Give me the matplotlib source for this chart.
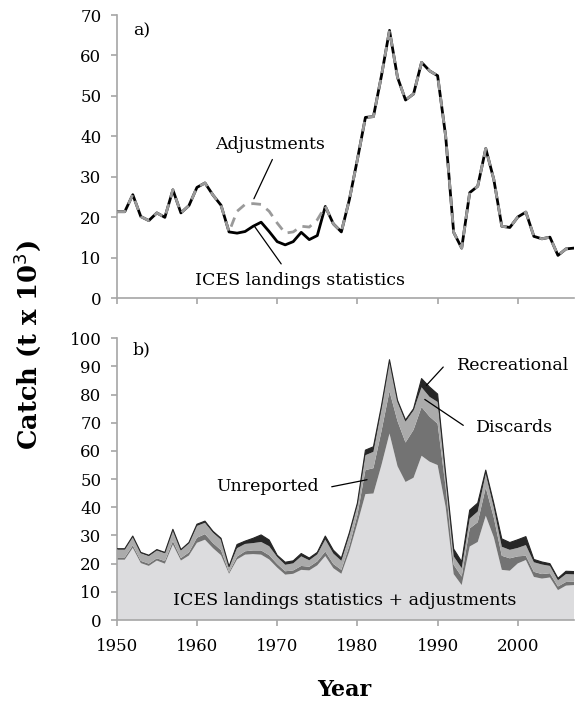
import matplotlib
matplotlib.use("Agg")
import matplotlib.pyplot as plt
import numpy as np

years = np.arange(1950, 2008)

# panel a: ICES landings statistics and landings incl. adjustments (t x 10^3)
ices = [21.4, 21.4, 25.6, 20.2, 19.2, 21.1, 20.0, 26.8, 21.1, 22.9,
        27.4, 28.5, 25.5, 23.0, 16.4, 16.1, 16.5, 17.8, 18.8, 16.5,
        14.0, 13.2, 14.0, 16.3, 14.5, 15.5, 22.7, 18.4, 16.4, 24.4,
        34.3, 44.7, 44.9, 55.0, 66.2, 54.6, 49.0, 50.5, 58.3, 56.2,
        55.0, 40.1, 16.3, 12.4, 26.1, 27.7, 37.0, 29.4, 17.8, 17.5,
        20.1, 21.3, 15.3, 14.7, 15.1, 10.6, 12.2, 12.4]
adjusted = [21.4, 21.4, 25.6, 20.2, 19.2, 21.1, 20.0, 26.8, 21.1, 22.9,
            27.4, 28.5, 25.5, 23.0, 16.4, 21.5, 23.2, 23.4, 23.2, 21.5,
            18.6, 16.1, 16.4, 17.8, 17.6, 19.4, 22.7, 18.4, 16.4, 24.4,
            34.3, 44.7, 44.9, 55.0, 66.2, 54.6, 49.0, 50.5, 58.3, 56.2,
            55.0, 40.1, 16.3, 12.4, 26.1, 27.7, 37.0, 29.4, 17.8, 17.5,
            20.1, 21.3, 15.3, 14.7, 15.1, 10.6, 12.2, 12.4]

# panel b: extra components stacked on top of adjusted landings
unreported = [0.8, 0.8, 0.9, 0.8, 0.8, 0.8, 0.9, 1.2, 0.9, 1.1,
              1.8, 2.0, 1.8, 1.8, 0.6, 1.0, 1.2, 1.3, 1.5, 1.5,
              1.3, 1.2, 1.2, 1.4, 1.3, 1.4, 1.6, 1.5, 1.4, 2.0,
              3.0, 8.5, 9.0, 12.0, 15.0, 16.0, 14.0, 17.0, 17.3, 16.0,
              14.7, 7.0, 3.3, 3.0, 6.4, 7.0, 10.0, 7.0, 5.0, 4.4,
              2.5, 1.5, 1.8, 1.6, 1.5, 1.3, 1.3, 1.2]
discards = [2.8, 2.8, 3.0, 2.7, 2.7, 2.8, 2.8, 3.8, 2.7, 3.2,
            4.2, 4.0, 3.7, 3.7, 1.8, 3.0, 2.6, 2.6, 3.0, 3.2,
            2.5, 2.3, 2.5, 3.4, 2.3, 2.5, 4.3, 3.7, 3.2, 3.8,
            3.5, 5.3, 5.8, 8.0, 10.5, 6.8, 7.4, 6.9, 7.0, 7.0,
            7.7, 3.5, 3.0, 3.0, 3.5, 3.8, 5.0, 3.5, 3.2, 3.0,
            3.0, 3.8, 3.4, 3.4, 2.6, 2.2, 2.8, 2.6]
recreational = [0.3, 0.3, 0.3, 0.3, 0.3, 0.3, 0.3, 0.4, 0.3, 0.3,
                0.6, 0.6, 0.5, 0.5, 0.2, 1.3, 1.0, 1.7, 2.5, 2.2,
                0.6, 0.9, 0.9, 1.0, 0.8, 0.7, 1.2, 1.2, 1.0, 0.8,
                0.7, 1.8, 1.8, 1.0, 0.7, 0.6, 0.6, 0.6, 3.1, 3.5,
                2.8, 1.4, 2.6, 2.3, 3.0, 3.0, 1.2, 1.6, 2.8, 2.6,
                2.9, 3.0, 1.0, 0.9, 0.8, 0.7, 1.0, 1.0]

xticks = [1950, 1960, 1970, 1980, 1990, 2000]

plt.rcParams["font.family"] = ["DejaVu Serif"]

axis_grey = "#a6a6a6"
lbl = 12.5

fig = plt.figure(figsize=(5.77, 7.02), dpi=100)
ax1 = fig.add_axes([0.2023, 0.5751, 0.7925, 0.4035])
ax2 = fig.add_axes([0.2023, 0.1168, 0.7925, 0.4013])


def style(ax):
    for s in ["top", "right"]:
        ax.spines[s].set_visible(False)
    for s in ["left", "bottom"]:
        ax.spines[s].set_color(axis_grey)
        ax.spines[s].set_linewidth(1.2)
    ax.tick_params(axis="both", colors=axis_grey, length=4, width=1.2,
                   labelcolor="black", labelsize=12, pad=7)
    ax.set_xlim(1950, 2007)
    ax.set_xticks(xticks)


def leader(ax, start, end):
    ax.annotate("", xy=end, xytext=start,
                arrowprops=dict(arrowstyle="-", color="black", lw=0.9,
                                shrinkA=0, shrinkB=0))


# ---- panel a
style(ax1)
ax1.plot(years, ices, color="black", lw=2.0, zorder=3)
ax1.plot(years, adjusted, color="#9a9a9a", lw=2.0, dashes=(3.5, 2.5), zorder=4)
ax1.set_ylim(0, 70)
ax1.set_yticks(range(0, 71, 10))
ax1.tick_params(axis="x", labelbottom=False)
ax1.text(1952, 66, "a)", fontsize=lbl, va="center")
ax1.text(1969.1, 38, "Adjustments", ha="center", va="center", fontsize=lbl)
leader(ax1, (1969.4, 34.3), (1967.1, 24.6))
ax1.text(1972.8, 4.4, "ICES landings statistics", ha="center", va="center", fontsize=lbl)
leader(ax1, (1967.2, 17.7), (1970.5, 8.5))

# ---- panel b
style(ax2)
ax2.stackplot(years, adjusted, unreported, discards, recreational,
              colors=["#dcdcde", "#737373", "#ababab", "#262626"],
              edgecolor="none", zorder=2)
total = np.array(adjusted) + np.array(unreported) + np.array(discards) + np.array(recreational)
ax2.plot(years, total, color="#262626", lw=0.8, zorder=3)
ax2.set_ylim(0, 100)
ax2.set_yticks(range(0, 101, 10))
ax2.tick_params(axis="x", pad=9)
ax2.text(1952, 96, "b)", fontsize=lbl, va="center")
ax2.text(1999.4, 90.4, "Recreational", ha="center", va="center", fontsize=lbl)
leader(ax2, (1990.7, 89.8), (1988.6, 83.3))
ax2.text(1999.6, 68.5, "Discards", ha="center", va="center", fontsize=lbl)
leader(ax2, (1993.2, 69.1), (1988.4, 78.3))
ax2.text(1968.8, 47.3, "Unreported", ha="center", va="center", fontsize=lbl)
leader(ax2, (1976.8, 47.3), (1981.2, 49.8))
ax2.text(1978.4, 7.1, "ICES landings statistics + adjustments",
         ha="center", va="center", fontsize=lbl, zorder=5)

fig.text(0.597, 0.017, "Year", ha="center", va="center",
         fontsize=16, fontweight="bold")
fig.text(0.047, 0.508, "Catch (t x 10$^3$)", rotation=90, ha="center",
         va="center", fontsize=18.5, fontweight="bold")

fig.savefig("out.png", dpi=100)
